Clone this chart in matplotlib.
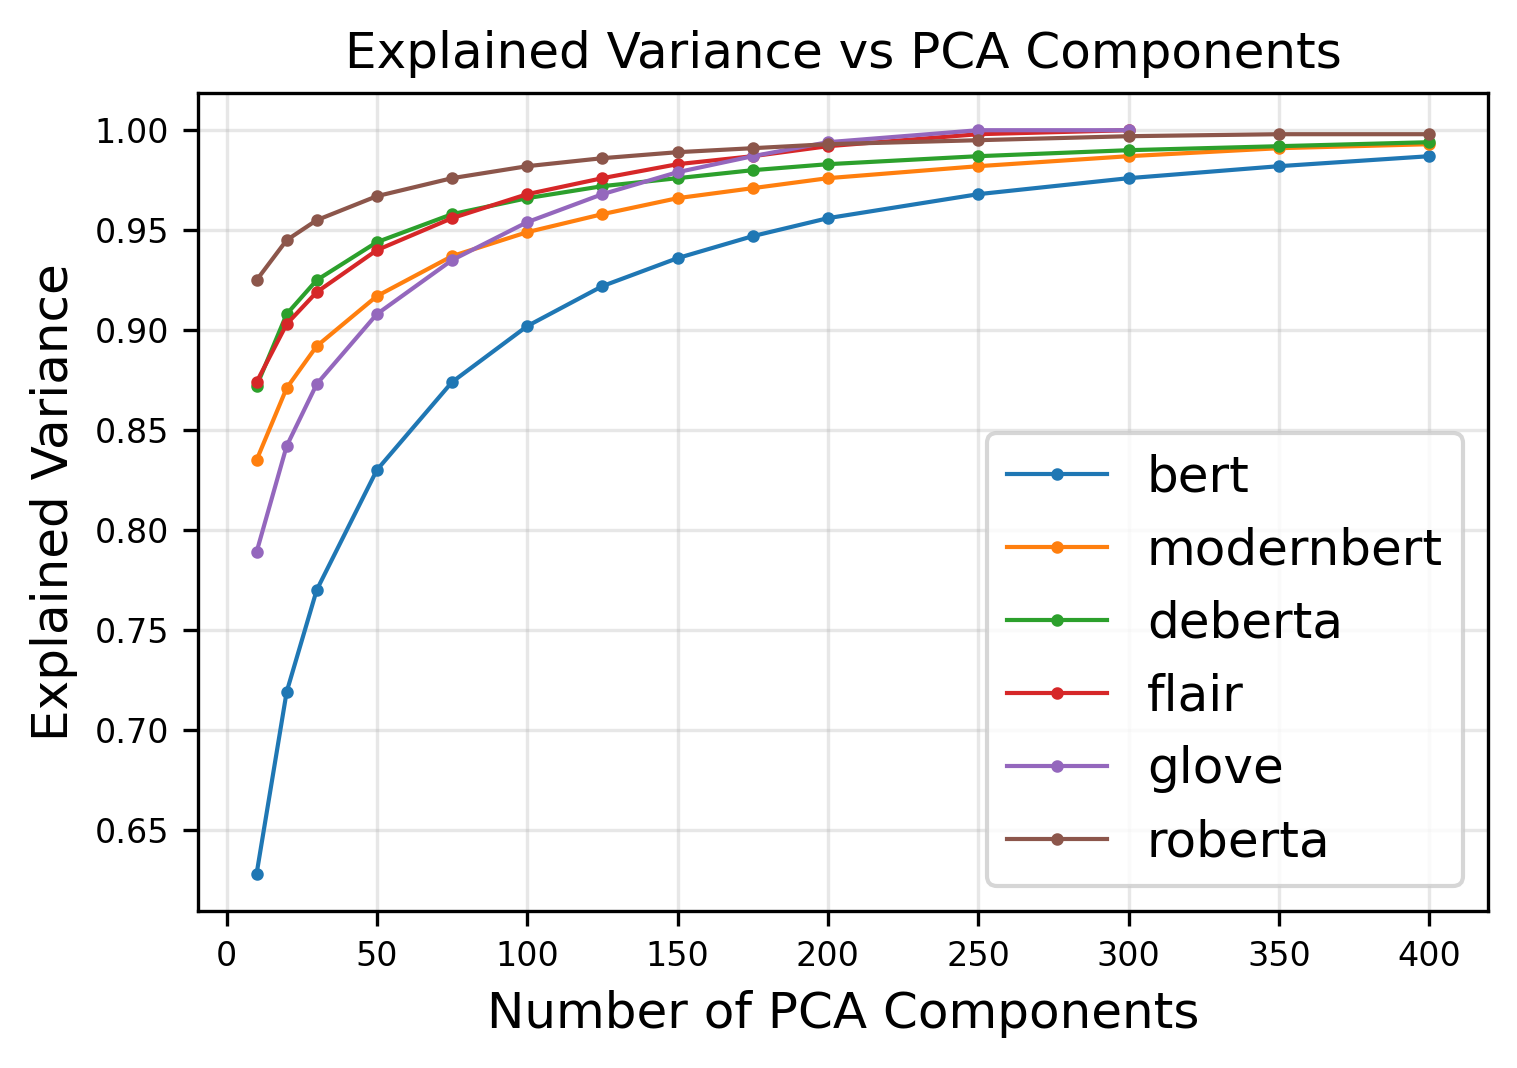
import matplotlib
matplotlib.use("Agg")
import matplotlib.pyplot as plt

components = [10, 20, 30, 50, 75, 100, 125, 150, 175, 200, 250, 300, 350, 400]
components_short = [10, 20, 30, 50, 75, 100, 125, 150, 175, 200, 250, 300]

bert = [0.628, 0.719, 0.770, 0.830, 0.874, 0.902, 0.922, 0.936, 0.947, 0.956,
        0.968, 0.976, 0.982, 0.987]
modernbert = [0.835, 0.871, 0.892, 0.917, 0.937, 0.949, 0.958, 0.966, 0.971,
              0.976, 0.982, 0.987, 0.991, 0.993]
deberta = [0.872, 0.908, 0.925, 0.944, 0.958, 0.966, 0.972, 0.976, 0.980,
           0.983, 0.987, 0.990, 0.992, 0.994]
flair = [0.874, 0.903, 0.919, 0.940, 0.956, 0.968, 0.976, 0.983, 0.987,
         0.992, 0.998, 1.000]
glove = [0.789, 0.842, 0.873, 0.908, 0.935, 0.954, 0.968, 0.979, 0.987,
         0.994, 1.000, 1.000]
roberta = [0.925, 0.945, 0.955, 0.967, 0.976, 0.982, 0.986, 0.989, 0.991,
           0.993, 0.995, 0.997, 0.998, 0.998]

series = [
    ("bert", components, bert),
    ("modernbert", components, modernbert),
    ("deberta", components, deberta),
    ("flair", components_short, flair),
    ("glove", components_short, glove),
    ("roberta", components, roberta),
]

fig, ax = plt.subplots(figsize=(5.06, 3.56), dpi=300)
fig.subplots_adjust(left=0.1304, right=0.9802, top=0.9129, bottom=0.1470)

for name, x, y in series:
    ax.plot(x, y, marker="o", markersize=2, lw=1, label=name)

ax.set_title("Explained Variance vs PCA Components", fontsize=12)
ax.set_xlabel("Number of PCA Components", fontsize=12)
ax.set_ylabel("Explained Variance", fontsize=12)
ax.tick_params(labelsize=8)
ax.grid(alpha=0.3)
ax.legend(fontsize=12, loc="lower right")

fig.savefig("out.png", dpi=300)
